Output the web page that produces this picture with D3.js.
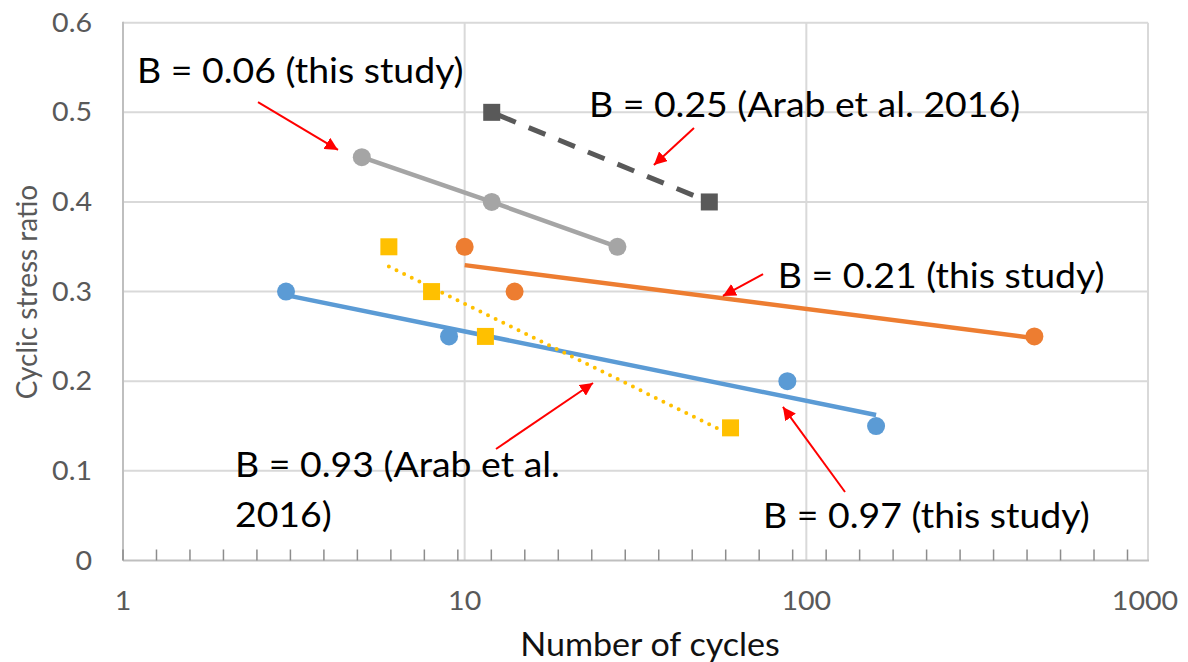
<!DOCTYPE html>
<html>
<head>
<meta charset="utf-8">
<script src="https://cdn.jsdelivr.net/npm/d3@7"></script>
<style>
  html, body { margin: 0; padding: 0; background: #fff; }
  svg { display: block; }
  text { font-family: Lato, "Open Sans", sans-serif; }
</style>
</head>
<body>
<svg id="chart" width="1188" height="662"></svg>
<script>
// ---- Data ----
const xTickValues = [1, 10, 100, 1000];
const xTickLabels = ["1", "10", "100", "1000"];
const yTickValues = [0, 0.1, 0.2, 0.3, 0.4, 0.5, 0.6];
const yTickLabels = ["0", "0.1", "0.2", "0.3", "0.4", "0.5", "0.6"];

// B = 0.06 (this study) — grey circles, connected
const greyCycles = [5, 12, 28];
const greyCSR    = [0.45, 0.40, 0.35];
// B = 0.25 (Arab et al. 2016) — dark squares, dashed
const darkCycles = [12, 52];
const darkCSR    = [0.50, 0.40];
// B = 0.21 (this study) — orange circles, log trendline
const orangeCycles = [10, 14, 465];
const orangeCSR    = [0.35, 0.30, 0.25];
// B = 0.97 (this study) — blue circles, log trendline
const blueCycles = [3, 9, 88, 160];
const blueCSR    = [0.30, 0.25, 0.20, 0.15];
// B = 0.93 (Arab et al. 2016) — yellow squares, dotted log trendline
const yellowCycles = [6, 8, 11.5, 60];
const yellowCSR    = [0.35, 0.30, 0.25, 0.148];

// Annotations (data coordinates)
const annLabels = [
  ["B = 0.06 (this study)"],
  ["B = 0.25 (Arab et al. 2016)"],
  ["B = 0.21 (this study)"],
  ["B = 0.93 (Arab et al.", "2016)"],
  ["B = 0.97 (this study)"]
];
const annLabelX = [1.099, 23.1, 82.5, 2.127, 74.7];
const annLabelY = [0.5327, 0.4948, 0.304, 0.0932, 0.0363];
const arrowFromX = [2.484, 46.9, 74.7, 12.35, 129.8];
const arrowFromY = [0.5115, 0.4825, 0.3196, 0.1244, 0.0764];
const arrowToX   = [4.259, 35.8, 57.0, 23.75, 85.4];
const arrowToY   = [0.458, 0.4412, 0.2951, 0.198, 0.1713];

// ---- Layout ----
const svg = d3.select("#chart");
const pLeft = 123, pRight = 1148, pTop = 22.7, pBottom = 560.5;
const x = d3.scaleLog().domain([1, 1000]).range([pLeft, pRight]);
const y = d3.scaleLinear().domain([0, 0.6]).range([pBottom, pTop]);

const gridColor = "#d9d9d9";
const axisColor = "#bfbfbf";
const labelColor = "#595959";
const stretch = 1.1;

// gridlines
svg.append("g").selectAll("line").data(yTickValues.filter(v => v > 0)).join("line")
  .attr("x1", pLeft).attr("x2", pRight)
  .attr("y1", d => y(d)).attr("y2", d => y(d))
  .attr("stroke", gridColor).attr("stroke-width", 2);
svg.append("g").selectAll("line").data(xTickValues.filter(v => v > 1)).join("line")
  .attr("x1", d => x(d)).attr("x2", d => x(d))
  .attr("y1", pTop).attr("y2", pBottom)
  .attr("stroke", gridColor).attr("stroke-width", 2);

// axes lines
svg.append("line").attr("x1", pLeft).attr("x2", pLeft).attr("y1", pTop - 1).attr("y2", pBottom)
  .attr("stroke", axisColor).attr("stroke-width", 2);
svg.append("line").attr("x1", pLeft).attr("x2", pRight + 1).attr("y1", pBottom).attr("y2", pBottom)
  .attr("stroke", axisColor).attr("stroke-width", 2);

// minor ticks (evenly spaced in log space, as in the source chart)
const minorTicks = d3.range(0, 31).map(i => Math.pow(10, i * 0.098));
svg.append("g").selectAll("line").data(minorTicks).join("line")
  .attr("x1", d => x(d)).attr("x2", d => x(d))
  .attr("y1", pBottom - 11).attr("y2", pBottom)
  .attr("stroke", "#8c8c8c").attr("stroke-width", 1.5);

// tick labels
svg.append("g").selectAll("text").data(yTickValues).join("text")
  .attr("transform", d => `translate(92,${y(d)}) scale(${stretch},1)`)
  .attr("dy", "0.35em")
  .attr("text-anchor", "end")
  .attr("fill", labelColor).attr("font-size", 26)
  .text((d, i) => yTickLabels[i]);
svg.append("g").selectAll("text").data(xTickValues).join("text")
  .attr("transform", d => `translate(${x(d) - (d === 1000 ? 3 : 0)},610) scale(${stretch},1)`)
  .attr("text-anchor", "middle")
  .attr("fill", labelColor).attr("font-size", 26)
  .text((d, i) => xTickLabels[i]);

// axis titles
svg.append("text")
  .attr("transform", "translate(37,292) rotate(-90)")
  .attr("text-anchor", "middle")
  .attr("fill", labelColor).attr("font-size", 28)
  .text("Cyclic stress ratio");
svg.append("text")
  .attr("transform", `translate(650,656) scale(1.065,1)`)
  .attr("text-anchor", "middle")
  .attr("fill", "#111").attr("font-size", 32)
  .text("Number of cycles");

// helpers
function zip(a, b) { return a.map((v, i) => [v, b[i]]); }
function logFit(xs, ys) {
  const lx = xs.map(Math.log10);
  const mx = d3.mean(lx), my = d3.mean(ys);
  let sxy = 0, sxx = 0;
  lx.forEach((v, i) => { sxy += (v - mx) * (ys[i] - my); sxx += (v - mx) * (v - mx); });
  const b = sxy / sxx, a = my - b * mx;
  const x0 = d3.min(xs), x1 = d3.max(xs);
  return [[x0, a + b * Math.log10(x0)], [x1, a + b * Math.log10(x1)]];
}
const line = d3.line().x(d => x(d[0])).y(d => y(d[1]));

// lines
svg.append("path").datum(zip(greyCycles, greyCSR)).attr("d", line)
  .attr("fill", "none").attr("stroke", "#a5a5a5").attr("stroke-width", 4.5);
svg.append("path").datum(zip(darkCycles, darkCSR)).attr("d", line)
  .attr("fill", "none").attr("stroke", "#595959").attr("stroke-width", 5)
  .attr("stroke-dasharray", "18,14").attr("stroke-dashoffset", -8);
svg.append("path").datum(logFit(orangeCycles, orangeCSR)).attr("d", line)
  .attr("fill", "none").attr("stroke", "#ed7d31").attr("stroke-width", 4.5);
svg.append("path").datum(logFit(blueCycles, blueCSR)).attr("d", line)
  .attr("fill", "none").attr("stroke", "#5b9bd5").attr("stroke-width", 4.5);
svg.append("path").datum(logFit(yellowCycles, yellowCSR)).attr("d", line)
  .attr("fill", "none").attr("stroke", "#ffc000").attr("stroke-width", 4)
  .attr("stroke-linecap", "round").attr("stroke-dasharray", "0,8.5");

// markers
function circles(xs, ys, color) {
  svg.append("g").selectAll("circle").data(zip(xs, ys)).join("circle")
    .attr("cx", d => x(d[0])).attr("cy", d => y(d[1])).attr("r", 9).attr("fill", color);
}
function squares(xs, ys, color) {
  const s = 17;
  svg.append("g").selectAll("rect").data(zip(xs, ys)).join("rect")
    .attr("x", d => x(d[0]) - s / 2).attr("y", d => y(d[1]) - s / 2)
    .attr("width", s).attr("height", s).attr("fill", color);
}
circles(greyCycles, greyCSR, "#a5a5a5");
squares(darkCycles, darkCSR, "#595959");
circles(orangeCycles, orangeCSR, "#ed7d31");
circles(blueCycles, blueCSR, "#5b9bd5");
squares(yellowCycles, yellowCSR, "#ffc000");

// arrows
const defs = svg.append("defs");
defs.append("marker").attr("id", "arrowhead")
  .attr("viewBox", "0 0 10 10").attr("refX", 10).attr("refY", 5)
  .attr("markerWidth", 13).attr("markerHeight", 13)
  .attr("markerUnits", "userSpaceOnUse").attr("orient", "auto")
  .append("path").attr("d", "M0,0 L10,5 L0,10 Z").attr("fill", "#ff0000");
svg.append("g").selectAll("line").data(d3.range(arrowFromX.length)).join("line")
  .attr("x1", i => x(arrowFromX[i])).attr("y1", i => y(arrowFromY[i]))
  .attr("x2", i => x(arrowToX[i])).attr("y2", i => y(arrowToY[i]))
  .attr("stroke", "#ff0000").attr("stroke-width", 2)
  .attr("marker-end", "url(#arrowhead)");

// annotation labels
annLabels.forEach((lines, i) => {
  lines.forEach((t, j) => {
    svg.append("text")
      .attr("transform", `translate(${x(annLabelX[i])},${y(annLabelY[i]) + j * 50}) scale(${stretch},1)`)
      .attr("fill", "#000").attr("font-size", 34)
      .text(t);
  });
});
</script>
</body>
</html>
